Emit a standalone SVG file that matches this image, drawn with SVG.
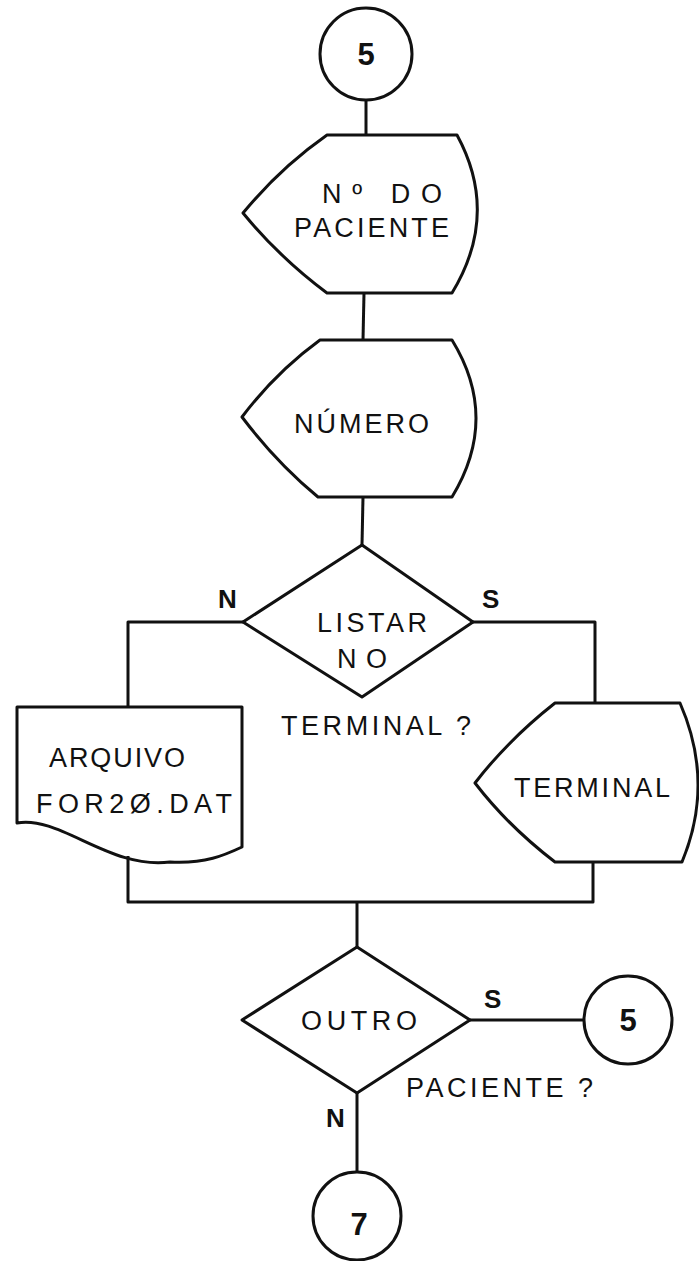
<svg xmlns="http://www.w3.org/2000/svg" width="699" height="1261" viewBox="0 0 699 1261">
<style>
.s{fill:none;stroke:#111;stroke-width:3;stroke-linejoin:round}
.t{font-family:"Liberation Sans",Arial,sans-serif;font-size:27px;fill:#111}
.l{font-family:"Liberation Sans",Arial,sans-serif;font-size:26px;font-weight:bold;fill:#111}
.d{font-family:"Liberation Sans",Arial,sans-serif;font-size:31px;font-weight:bold;fill:#111}
</style>
<rect width="699" height="1261" fill="#fff"/>
<g id="connectors" class="s">
<line x1="366" y1="100" x2="366" y2="135"/>
<line x1="364" y1="293" x2="363" y2="340"/>
<line x1="363" y1="497" x2="362" y2="545"/>
<polyline points="243,622 128,622 128,707"/>
<polyline points="473,622 595,622 595,703"/>
<polyline points="128,856 128,902 593,902 593,862"/>
<line x1="357" y1="902" x2="357" y2="947"/>
<line x1="470" y1="1020" x2="584" y2="1020"/>
<line x1="357" y1="1093" x2="357" y2="1172"/>
</g>
<g id="start5">
<circle class="s" cx="366" cy="54" r="46"/>
<text class="d" x="366" y="65" text-anchor="middle">5</text>
</g>
<g id="display1">
<path class="s" d="M327 135 L457 135 Q500 214 452 293 L327 293 Q280 258 243 213 Q280 168 327 135 Z"/>
<text class="t" x="322" y="203" textLength="120" lengthAdjust="spacing">Nº DO</text>
<text class="t" x="294" y="237" textLength="155" lengthAdjust="spacing">PACIENTE</text>
</g>
<g id="display2">
<path class="s" d="M320 340 L452 340 Q500 418 452 497 L318 497 Q276 462 242 417 Q276 372 320 340 Z"/>
<text class="t" x="294" y="433" textLength="135" lengthAdjust="spacing">NÚMERO</text>
</g>
<g id="decision1">
<polygon class="s" points="362,545 473,622 362,697 243,622"/>
<text class="t" x="317" y="632" textLength="110" lengthAdjust="spacing">LISTAR</text>
<text class="t" x="337" y="668" textLength="50" lengthAdjust="spacing">NO</text>
<text class="t" x="281" y="735" textLength="190" lengthAdjust="spacing">TERMINAL ?</text>
<text class="l" x="218" y="608">N</text>
<text class="l" x="482" y="608">S</text>
</g>
<g id="document">
<path class="s" d="M17 707 L242 707 L242 847 C225 855 205 864 170 862 C110 870 60 815 17 823 Z"/>
<text class="t" x="49" y="767" textLength="136" lengthAdjust="spacing">ARQUIVO</text>
<text class="t" x="36" y="813" textLength="196" lengthAdjust="spacing">FOR2Ø.DAT</text>
</g>
<g id="display3">
<path class="s" d="M555 703 L680 703 Q715 783 682 862 L555 862 Q508 826 475 783 Q508 740 555 703 Z"/>
<text class="t" x="514" y="797" textLength="156" lengthAdjust="spacing">TERMINAL</text>
</g>
<g id="decision2">
<polygon class="s" points="357,947 470,1020 357,1093 242,1020"/>
<text class="t" x="301" y="1030" textLength="116" lengthAdjust="spacing">OUTRO</text>
<text class="t" x="406" y="1097" textLength="187" lengthAdjust="spacing">PACIENTE ?</text>
<text class="l" x="484" y="1008">S</text>
<text class="l" x="326" y="1127">N</text>
</g>
<g id="connector5">
<circle class="s" cx="628" cy="1020" r="44"/>
<text class="d" x="628" y="1031" text-anchor="middle">5</text>
</g>
<g id="connector7">
<circle class="s" cx="357" cy="1216" r="44"/>
<text class="d" x="359" y="1235" text-anchor="middle">7</text>
</g>
</svg>
